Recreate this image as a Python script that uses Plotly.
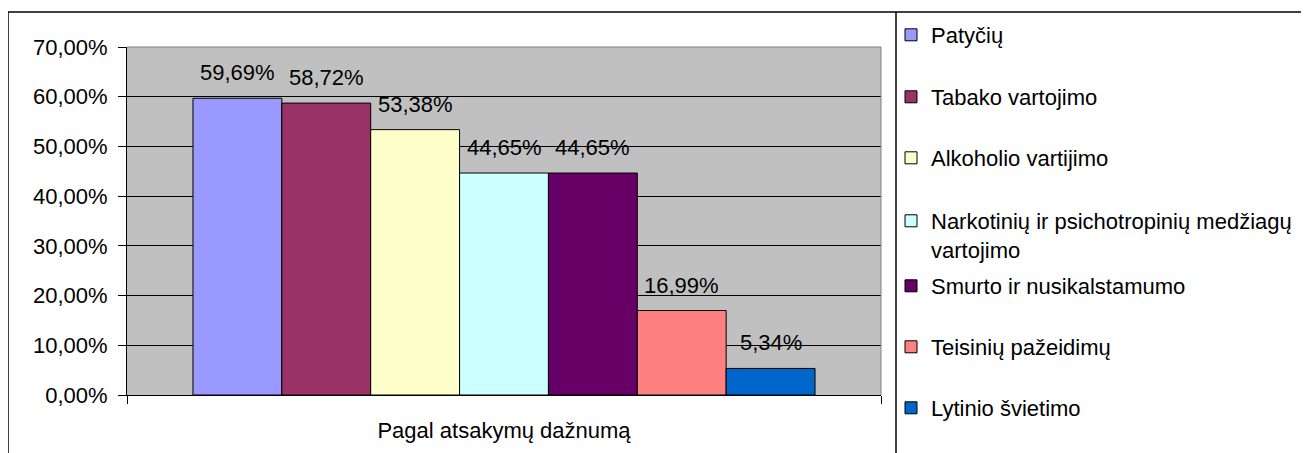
import plotly.graph_objects as go

category = ["Pagal atsakymų dažnumą"]
series_names = [
    "Patyčių",
    "Tabako vartojimo",
    "Alkoholio vartijimo",
    "Narkotinių ir psichotropinių medžiagų<br>vartojimo",
    "Smurto ir nusikalstamumo",
    "Teisinių pažeidimų",
    "Lytinio švietimo",
]
series_values = [0.5969, 0.5872, 0.5338, 0.4465, 0.4465, 0.1699, 0.0534]
series_colors = ["#9999FF", "#993366", "#FFFFCC", "#CCFFFF", "#660066", "#FF8080", "#0066CC"]
y_ticks = [0, 0.1, 0.2, 0.3, 0.4, 0.5, 0.6, 0.7]

OFF = 8  # page body margin offset
W, H = 1309 - OFF, 453 - OFF
# plot area in screen pixels -> figure pixels
L, R, T, B = 127 - OFF, 881 - OFF, 47 - OFF, 395 - OFF
pw, ph = R - L, B - T


def px_x(p):
    return (p - OFF - L) / pw


def px_y(p):
    return (B - (p - OFF)) / ph


FONT = "Liberation Sans, Arial, sans-serif"
FS = 22
BARGAP = 0.175

legend_centers = [36, 98, 159, 222, 287, 348, 409]

fig = go.Figure()
legend_cfg = {}
annotations = []
n = len(series_values)
group_w = 1 - BARGAP
bw = group_w / n
for i, (name, val, col) in enumerate(zip(series_names, series_values, series_colors)):
    lname = "legend" if i == 0 else f"legend{i + 1}"
    fig.add_trace(go.Bar(
        x=category, y=[val], name=name,
        marker=dict(color=col, line=dict(color="black", width=1)),
        legend=lname, showlegend=True,
    ))
    annotations.append(dict(
        x=-group_w / 2 + (i + 0.5) * bw, y=val, xref="x", yref="y",
        text=f"{val * 100:.2f}%".replace(".", ","), showarrow=False,
        yanchor="bottom", xanchor="center", yshift=11,
        font=dict(family=FONT, size=FS, color="black"),
    ))
    legend_cfg[lname] = dict(
        x=px_x(891), xanchor="left",
        y=px_y(legend_centers[i] - 22), yanchor="top",
        valign="top", bgcolor="rgba(0,0,0,0)", borderwidth=0,
        font=dict(family=FONT, size=FS, color="black"),
    )

fig.update_layout(
    width=W, height=H,
    margin=dict(l=L, r=W - R, t=T, b=H - B, pad=0, autoexpand=False),
    paper_bgcolor="white", plot_bgcolor="#C0C0C0",
    barmode="group", bargap=BARGAP, bargroupgap=0,
    separators=", ",
    font=dict(family=FONT, size=FS, color="black"),
    annotations=annotations,
    **legend_cfg,
)
fig.update_yaxes(
    range=[0, 0.7], tickvals=y_ticks, tickformat=".2%",
    showgrid=True, gridcolor="black", gridwidth=1,
    showline=True, linecolor="black", linewidth=1,
    ticks="outside", ticklen=8, tickcolor="black",
    ticklabelstandoff=6, zeroline=False,
    tickfont=dict(family=FONT, size=FS, color="black"),
)
fig.update_xaxes(
    range=[-0.5, 0.5],
    showline=True, linecolor="black", linewidth=1,
    ticks="outside", ticklen=8, tickcolor="black", tickson="boundaries",
    ticklabelstandoff=16,
    tickfont=dict(family=FONT, size=FS, color="black"),
)

shapes = [
    dict(type="line", xref="paper", yref="paper", x0=0, x1=1, y0=1, y1=1,
         line=dict(color="#808080", width=1)),
    dict(type="line", xref="paper", yref="paper", x0=1, x1=1, y0=0, y1=1,
         line=dict(color="#808080", width=1)),
    dict(type="line", xref="paper", yref="paper", x0=px_x(8), x1=px_x(1320),
         y0=px_y(12), y1=px_y(12), line=dict(color="black", width=1.5)),
    dict(type="line", xref="paper", yref="paper", x0=px_x(8), x1=px_x(8),
         y0=px_y(12), y1=px_y(470), line=dict(color="black", width=1.5)),
    dict(type="line", xref="paper", yref="paper", x0=px_x(896), x1=px_x(896),
         y0=px_y(12), y1=px_y(470), line=dict(color="black", width=1.5)),
]
fig.update_layout(shapes=shapes)

fig.write_html("out.html")
